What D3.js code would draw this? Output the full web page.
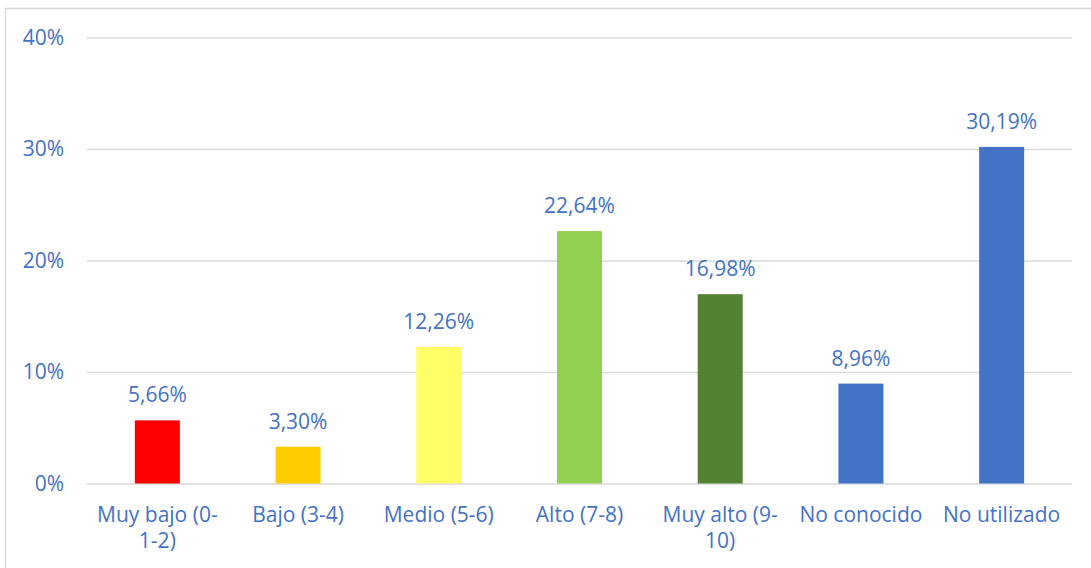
<!DOCTYPE html>
<html>
<head>
<meta charset="utf-8">
<script src="https://cdn.jsdelivr.net/npm/d3@7"></script>
<style>
  body { margin: 0; background: #fff; }
  text { font-family: "Open Sans", sans-serif; fill: #4472c4; }
</style>
</head>
<body>
<div id="chart"></div>
<script>
var categories = ["Muy bajo (0-1-2)", "Bajo (3-4)", "Medio (5-6)", "Alto (7-8)", "Muy alto (9-10)", "No conocido", "No utilizado"];
var values = [5.66, 3.30, 12.26, 22.64, 16.98, 8.96, 30.19];
var barColors = ["#ff0000", "#ffcc00", "#ffff66", "#92d050", "#548235", "#4472c4", "#4472c4"];
var yTicks = [0, 10, 20, 30, 40];

window.onload = () => {
  var W = 1091, H = 568;
  var left = 87, right = 1072, top = 37.5, bottom = 483.5;

  var svg = d3.select("#chart").append("svg")
    .attr("width", W)
    .attr("height", H);

  // chart frame (cropped on right and bottom)
  svg.append("rect")
    .attr("x", 5.5).attr("y", 8.5)
    .attr("width", W + 20).attr("height", H + 20)
    .attr("fill", "none")
    .attr("stroke", "#d9d9d9")
    .attr("stroke-width", 1.5);

  var x = d3.scaleBand()
    .domain(categories)
    .range([left, right])
    .paddingInner(0.68)
    .paddingOuter(0.68 / 2);

  var y = d3.scaleLinear()
    .domain([0, 40])
    .range([bottom, top]);

  // grid
  svg.append("g")
    .attr("class", "grid")
    .attr("transform", "translate(" + left + ",0)")
    .call(d3.axisLeft(y)
      .tickValues(yTicks)
      .tickSize(-(right - left))
      .tickFormat(function() { return null; }))
    .call(g => g.select(".domain").remove())
    .selectAll("line")
    .attr("stroke", "#d9d9d9")
    .attr("stroke-width", 1.3);

  // y labels
  svg.append("g")
    .attr("transform", "translate(" + left + ",0)")
    .call(d3.axisLeft(y)
      .tickValues(yTicks)
      .tickSize(0)
      .tickPadding(23)
      .tickFormat(d => d + "%"))
    .call(g => g.select(".domain").remove())
    .selectAll("text")
    .attr("fill", "#4472c4")
    .style("font-size", "21px")
    .style("font-family", "'Open Sans', sans-serif");

  // bars
  svg.append("g")
    .selectAll("rect")
    .data(values)
    .enter().append("rect")
    .attr("x", (d, i) => x(categories[i]))
    .attr("y", d => y(d))
    .attr("width", x.bandwidth())
    .attr("height", d => y(0) - y(d))
    .attr("fill", (d, i) => barColors[i]);

  // value labels
  svg.append("g")
    .selectAll("text")
    .data(values)
    .enter().append("text")
    .attr("x", (d, i) => x(categories[i]) + x.bandwidth() / 2)
    .attr("y", d => y(d) - 18)
    .attr("text-anchor", "middle")
    .style("font-size", "21px")
    .text(d => d.toFixed(2).replace(".", ",") + "%");

  // category labels, wrapped
  var maxW = x.step() - 8;
  var cats = svg.append("g")
    .selectAll("text")
    .data(categories)
    .enter().append("text")
    .attr("x", d => x(d) + x.bandwidth() / 2)
    .attr("y", 522)
    .attr("text-anchor", "middle")
    .style("font-size", "21px");

  cats.each(function(d) {
    var el = d3.select(this);
    var tokens = d.match(/[^\s-]+-?\s*/g);
    var lines = [], cur = "";
    tokens.forEach(function(t) {
      var test = cur + t;
      el.text(test.trim());
      if (cur && this.getComputedTextLength() > maxW) {
        lines.push(cur.trim());
        cur = t;
      } else {
        cur = test;
      }
    }, this);
    lines.push(cur.trim());
    el.text(null);
    lines.forEach(function(l, i) {
      el.append("tspan")
        .attr("x", x(d) + x.bandwidth() / 2)
        .attr("dy", i ? 26 : 0)
        .text(l);
    });
  });
};
</script>
</body>
</html>
